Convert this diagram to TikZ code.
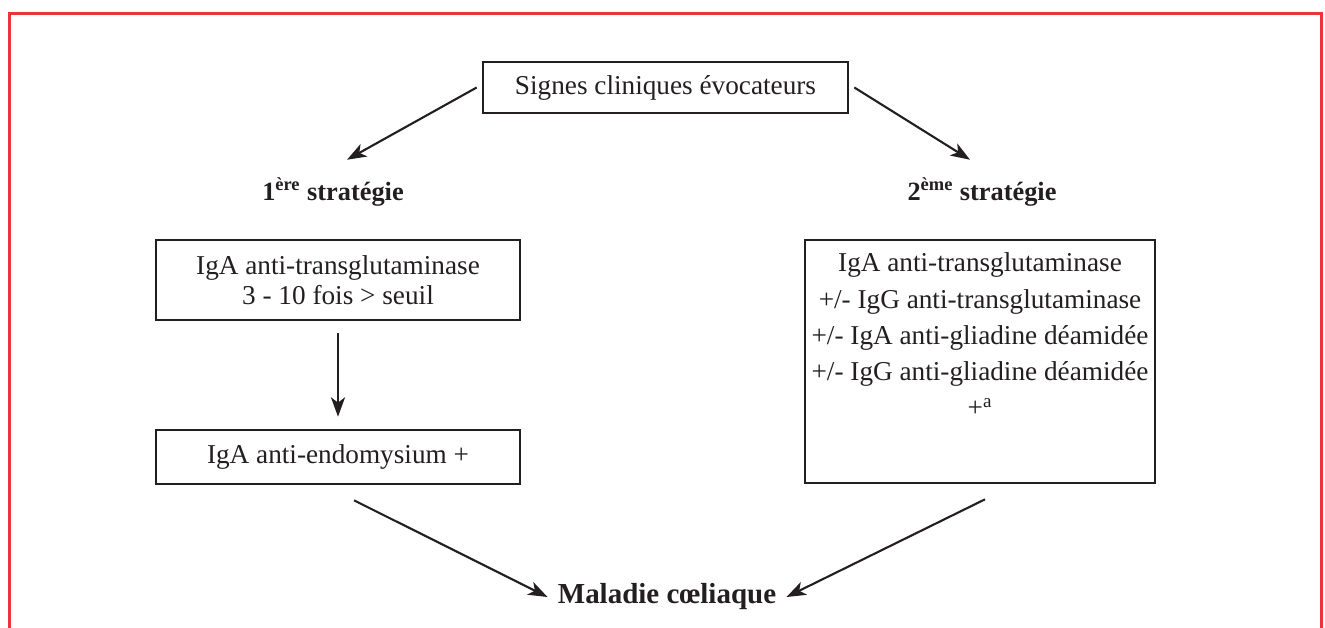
\documentclass[tikz,border=0pt]{standalone}
\usepackage{fontspec}
\setmainfont{Liberation Serif}
\usetikzlibrary{arrows.meta}
\definecolor{framered}{RGB}{232,52,58}
\definecolor{ink}{RGB}{35,31,32}
\begin{document}
\begin{tikzpicture}[
    box/.style={rectangle, draw=ink, line width=1.5pt, text=ink, align=center,
                font=\fontsize{15.5}{17}\selectfont},
    strat/.style={inner sep=0pt, text=ink, font=\fontsize{15}{17}\selectfont\bfseries},
    arr/.style={draw=ink, line width=1.2pt, -{Stealth[length=11pt,width=8pt,inset=3pt]}}
]

% Frame
\useasboundingbox (0,0) rectangle (26.5,-12.56);
\draw[framered, line width=1.7pt] (0.19,-12.56) -- (0.19,-0.27) -- (26.43,-0.27) -- (26.43,-12.56);

% Top
\node[box, minimum width=7.3cm, minimum height=1.02cm] (signes) at (13.31,-1.75) {Signes cliniques évocateurs};

% Strategies
\node[strat] (strat1) at (6.66,-3.84) {1\textsuperscript{ère} stratégie};
\node[strat] (strat2) at (19.64,-3.84) {2\textsuperscript{ème} stratégie};

% Left column
\node[box, minimum width=7.28cm, minimum height=1.6cm] (ttg1) at (6.76,-5.6) {IgA anti-transglutaminase\\3 - 10 fois > seuil};
\node[box, minimum width=7.28cm, minimum height=1.08cm] (ema) at (6.76,-9.14) {IgA anti-endomysium +};

% Right column
\node[box, minimum width=7cm, minimum height=4.86cm] (ttg2) at (19.6,-7.23) {};
\node[anchor=north, inner sep=0pt, text=ink, align=center, font=\fontsize{15.5}{17}\selectfont] (ttg2list)
    at ([yshift=-0.28cm]ttg2.north) {IgA anti-transglutaminase\\[3.6pt]
+/- IgG anti-transglutaminase\\[3.6pt]
+/- IgA anti-gliadine déamidée\\[3.6pt]
+/- IgG anti-gliadine déamidée\\[3.6pt]
+\textsuperscript{a}};

% Result
\node[inner sep=0pt, text=ink, font=\fontsize{16.5}{19}\selectfont\bfseries] (maladie) at (13.34,-11.94) {Maladie cœliaque};

% Arrows
\draw[arr] ([xshift=-0.1cm]signes.west) -- ([xshift=0.28cm,yshift=0.36cm]strat1.north);
\draw[arr] ([xshift=0.1cm]signes.east) -- ([xshift=-0.24cm,yshift=0.36cm]strat2.north);
\draw[arr, shorten <=0.24cm, shorten >=0.24cm] (ttg1.south) -- (ema.north);
\draw[arr] ([xshift=0.32cm,yshift=-0.3cm]ema.south) -- ([xshift=-0.2cm]maladie.west);
\draw[arr] ([xshift=0.1cm,yshift=-0.3cm]ttg2.south) -- ([xshift=0.2cm]maladie.east);

\end{tikzpicture}
\end{document}
